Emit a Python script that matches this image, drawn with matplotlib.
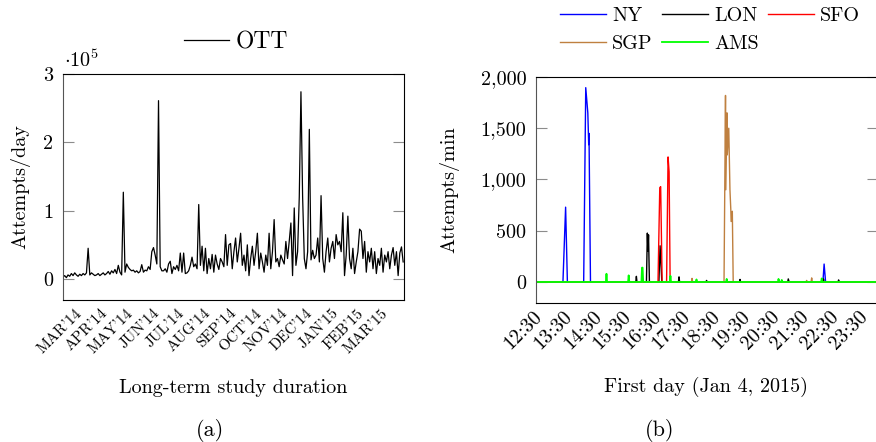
import numpy as np
import matplotlib
matplotlib.use('Agg')
import matplotlib.pyplot as plt

plt.rcParams['font.family'] = 'cmr10'
plt.rcParams['mathtext.fontset'] = 'cm'
plt.rcParams['axes.formatter.use_mathtext'] = True
plt.rcParams['axes.unicode_minus'] = False

# (a) daily attempts, in thousands, one value every second day (day 0 = Feb 9, 2014)
ott_k = [3, 5, 2, 6, 4, 8, 5, 9, 6, 4,
         7, 5, 8, 6, 9, 45, 6, 9, 7, 5,
         6, 8, 5, 7, 9, 6, 8, 11, 7, 12,
         9, 14, 8, 20, 10, 6, 127, 10, 22, 17,
         14, 12, 13, 10, 12, 9, 11, 21, 10, 13,
         12, 18, 14, 40, 46, 35, 22, 261, 18, 12,
         12, 15, 10, 22, 26, 8, 18, 14, 20, 12,
         38, 10, 38, 8, 9, 12, 20, 32, 18, 22,
         15, 109, 20, 48, 12, 45, 8, 30, 15, 36,
         10, 35, 22, 14, 30, 25, 18, 65, 20, 50,
         52, 15, 40, 60, 25, 45, 67, 20, 35, 12,
         50, 5, 30, 48, 20, 40, 67, 15, 38, 25,
         10, 35, 20, 67, 15, 40, 87, 25, 30, 18,
         35, 28, 22, 55, 30, 55, 82, 5, 104, 20,
         40, 120, 274, 120, 30, 15, 40, 219, 28, 42,
         30, 35, 60, 25, 122, 30, 10, 40, 60, 25,
         45, 55, 30, 65, 50, 55, 40, 97, 5, 35,
         92, 30, 15, 45, 8, 25, 40, 73, 70, 30,
         55, 10, 40, 25, 45, 15, 40, 8, 30, 20,
         45, 10, 35, 25, 40, 15, 35, 46, 20, 40,
         5, 38, 47, 25]
ott_day = np.arange(0, 2 * len(ott_k), 2)
month_days = [20, 51, 81, 112, 142, 173, 204, 234, 265, 295, 326, 357, 385]
month_labels = ["MAR'14", "APR'14", "MAY'14", "JUN'14", "JUL'14", "AUG'14", "SEP'14",
                "OCT'14", "NOV'14", "DEC'14", "JAN'15", "FEB'15", "MAR'15"]

# (b) attempts per minute on Jan 4, 2015 (time in hours)
ny_t = [12.3, 13.29, 13.38, 13.44, 13.99, 14.06, 14.13, 14.16, 14.17, 14.22, 22.07, 22.11, 22.16, 24.0]
ny_v = [0, 0, 730, 0, 0, 1896, 1650, 1340, 1450, 0, 0, 175, 0, 0]
lon_t = [12.3, 15.75, 15.77, 15.79, 16.11, 16.14, 16.16, 16.18, 16.21, 16.53, 16.57, 16.60, 16.63,
         17.19, 17.21, 17.23, 18.12, 18.14, 18.16, 19.25, 19.27, 19.29, 20.88, 20.90, 20.93,
         22.07, 22.09, 22.11, 22.58, 22.60, 22.62, 24.0]
lon_v = [0, 0, 55, 0, 0, 477, 300, 460, 0, 0, 353, 180, 0,
         0, 50, 0, 0, 15, 0, 0, 25, 0, 0, 30, 0,
         0, 30, 0, 0, 20, 0, 0]
sfo_t = [12.3, 16.50, 16.56, 16.59, 16.64, 16.79, 16.84, 16.875, 16.91, 24.0]
sfo_v = [0, 0, 920, 930, 0, 0, 1220, 1075, 0, 0]
sgp_t = [12.3, 17.63, 17.65, 17.67, 18.73, 18.78, 18.79, 18.83, 18.84, 18.89, 18.93, 18.96, 18.97,
         19.01, 19.04, 21.50, 21.52, 21.54, 21.67, 21.69, 21.71, 24.0]
sgp_v = [0, 0, 35, 0, 0, 1820, 900, 1650, 1240, 1500, 900, 700, 590,
         690, 0, 0, 15, 0, 0, 40, 0, 0]
ams_t = [12.3, 14.74, 14.76, 14.78, 15.49, 15.51, 15.53, 15.94, 15.96, 15.98, 16.00,
         16.90, 16.92, 16.94, 17.78, 17.80, 17.82, 18.80, 18.82, 18.84, 20.55, 20.57, 20.60,
         20.66, 20.68, 20.70, 22.01, 22.03, 22.05, 24.0]
ams_v = [0, 0, 80, 0, 0, 65, 0, 0, 140, 140, 0,
         0, 60, 0, 0, 25, 0, 0, 30, 0, 0, 30, 0,
         0, 20, 0, 0, 35, 0, 0]
hour_ticks = [12.5 + i for i in range(12)]
hour_labels = ['%d:30' % (12 + i) for i in range(12)]

W, H = 876, 442
FS = 14.5


def box(l, t, r, b):
    return [l / W, 1 - b / H, (r - l) / W, (b - t) / H]


def style_axes(ax):
    for s in ax.spines.values():
        s.set_color('black')
        s.set_linewidth(0.8)
    ax.spines['left'].set_color('#555555')
    ax.tick_params(axis='y', direction='in', left=True, right=True, length=8,
                   color='#8c8c8c', width=0.8, labelsize=FS, pad=7)
    ax.tick_params(axis='x', length=0, pad=8)


fig = plt.figure(figsize=(W / 100, H / 100), dpi=100)

ax1 = fig.add_axes(box(63, 74, 404, 300))
ax1.plot(ott_day, np.array(ott_k) * 1000, color='black', lw=0.9, label='OTT')
ax1.set_xlim(0, 407)
ax1.set_ylim(-30700, 3e5)
ax1.set_yticks([0, 1e5, 2e5, 3e5])
ax1.set_yticklabels(['0', '1', '2', '3'])
ax1.set_xticks(month_days)
ax1.set_xticklabels(month_labels, rotation=45, ha='right', va='center',
                    rotation_mode='anchor', fontsize=11)
style_axes(ax1)
fig.text(64 / W, 1 - 67 / H, r'$\cdot 10^{5}$', fontsize=FS, ha='left', va='baseline')
ax1.legend(loc='center', bbox_to_anchor=(236 / W, 1 - 42 / H), bbox_transform=fig.transFigure,
           frameon=False, fontsize=17, handlelength=1.9, handletextpad=0.3,
           borderpad=0, borderaxespad=0)

ax2 = fig.add_axes(box(536, 77, 878, 303))
h_ny, = ax2.plot(ny_t, ny_v, color='#0000ff', lw=1.0, label='NY')
h_lon, = ax2.plot(lon_t, lon_v, color='black', lw=1.0, label='LON')
h_sfo, = ax2.plot(sfo_t, sfo_v, color='#ff0000', lw=1.0, label='SFO')
h_sgp, = ax2.plot(sgp_t, sgp_v, color='#bf8040', lw=1.0, label='SGP')
h_ams, = ax2.plot(ams_t, ams_v, color='#00ff00', lw=1.3, label='AMS')
ax2.set_xlim(12.38, 23.93)
ax2.set_ylim(-205, 2000)
ax2.set_yticks([0, 500, 1000, 1500, 2000])
ax2.set_yticklabels(['0', '500', '1,000', '1,500', '2,000'])
ax2.set_xticks(hour_ticks)
ax2.set_xticklabels(hour_labels, rotation=45, ha='right', va='center',
                    rotation_mode='anchor', fontsize=FS)
style_axes(ax2)
ax2.legend([h_ny, h_sgp, h_lon, h_ams, h_sfo], ['NY', 'SGP', 'LON', 'AMS', 'SFO'], ncol=3,
           loc='center', bbox_to_anchor=(710 / W, 1 - 30 / H), bbox_transform=fig.transFigure,
           frameon=False, fontsize=FS, handlelength=2.3, handletextpad=0.3,
           columnspacing=0.45, labelspacing=0.45, borderpad=0, borderaxespad=0)

fig.text(20 / W, 1 - 187 / H, 'Attempts/day', rotation=90, ha='center', va='center', fontsize=FS)
fig.text(449 / W, 1 - 190 / H, 'Attempts/min', rotation=90, ha='center', va='center', fontsize=FS)
fig.text(233 / W, 1 - 388 / H, 'Long-term study duration', ha='center', va='center', fontsize=FS)
fig.text(706 / W, 1 - 387 / H, 'First day (Jan 4, 2015)', ha='center', va='center', fontsize=FS)
fig.text(210 / W, 1 - 430 / H, '(a)', ha='center', va='center', fontsize=16)
fig.text(660 / W, 1 - 431 / H, '(b)', ha='center', va='center', fontsize=16)

fig.savefig('out.png', dpi=100)
